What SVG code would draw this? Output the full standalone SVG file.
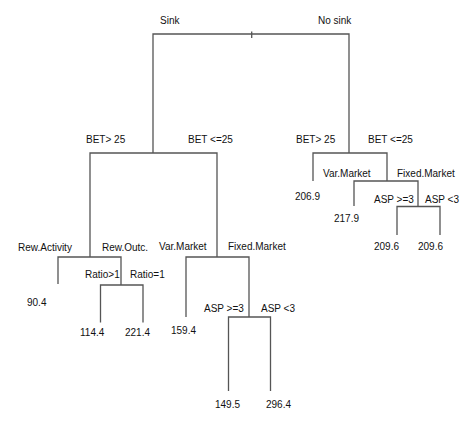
<svg xmlns="http://www.w3.org/2000/svg" width="475" height="429" viewBox="0 0 475 429">
<style>
.t{font-family:"Liberation Sans",Arial,sans-serif;font-size:10px;fill:#111}
.e{fill:none;stroke:#555;stroke-width:1.3}
</style>
<rect width="475" height="429" fill="#fff"/>
<g id="connectors" class="e">
<path d="M153,153 V34 H349 V153"/>
<path d="M251.7,31.5 V38"/>
<path d="M90,257 V153 H217 V257"/>
<path d="M313,181 V153 H387 V181"/>
<path d="M354,206 V181 H418 V206.5"/>
<path d="M397,235 V206.5 H440 V235"/>
<path d="M58,284 V257 H121 V285"/>
<path d="M100.5,322.5 V285 H143 V322.5"/>
<path d="M186,317 V257 H249 V317"/>
<path d="M228.5,391 V317 H270.5 V391"/>
</g>
<g id="root"><text class="t" x="160" y="24">Sink</text><text class="t" x="318" y="24">No sink</text></g>
<g id="sink"><text class="t" x="86" y="143">BET&gt; 25</text><text class="t" x="188" y="143">BET &lt;=25</text></g>
<g id="nosink"><text class="t" x="296" y="143">BET&gt; 25</text><text class="t" x="368" y="143">BET &lt;=25</text></g>
<g id="sink-bet-gt"><text class="t" x="18" y="251">Rew.Activity</text><text class="t" x="102" y="251">Rew.Outc.</text></g>
<g id="sink-bet-le"><text class="t" x="159" y="250">Var.Market</text><text class="t" x="228" y="250">Fixed.Market</text></g>
<g id="nosink-bet-gt"><text class="t" x="295" y="200">206.9</text></g>
<g id="nosink-bet-le"><text class="t" x="323" y="177">Var.Market</text><text class="t" x="397" y="177">Fixed.Market</text></g>
<g id="nosink-var"><text class="t" x="334" y="222">217.9</text></g>
<g id="nosink-fixed"><text class="t" x="374" y="203">ASP &gt;=3</text><text class="t" x="425" y="203">ASP &lt;3</text></g>
<g id="nosink-asp-ge"><text class="t" x="374" y="250">209.6</text></g>
<g id="nosink-asp-lt"><text class="t" x="418" y="250">209.6</text></g>
<g id="rew-activity"><text class="t" x="27" y="306">90.4</text></g>
<g id="rew-outc"><text class="t" x="85" y="278">Ratio&gt;1</text><text class="t" x="130" y="278">Ratio=1</text></g>
<g id="ratio-gt"><text class="t" x="80" y="336">114.4</text></g>
<g id="ratio-eq"><text class="t" x="125" y="336">221.4</text></g>
<g id="sink-var"><text class="t" x="171" y="334">159.4</text></g>
<g id="sink-fixed"><text class="t" x="204" y="312">ASP &gt;=3</text><text class="t" x="261" y="312">ASP &lt;3</text></g>
<g id="sink-asp-ge"><text class="t" x="215" y="408">149.5</text></g>
<g id="sink-asp-lt"><text class="t" x="266" y="408">296.4</text></g>
</svg>
